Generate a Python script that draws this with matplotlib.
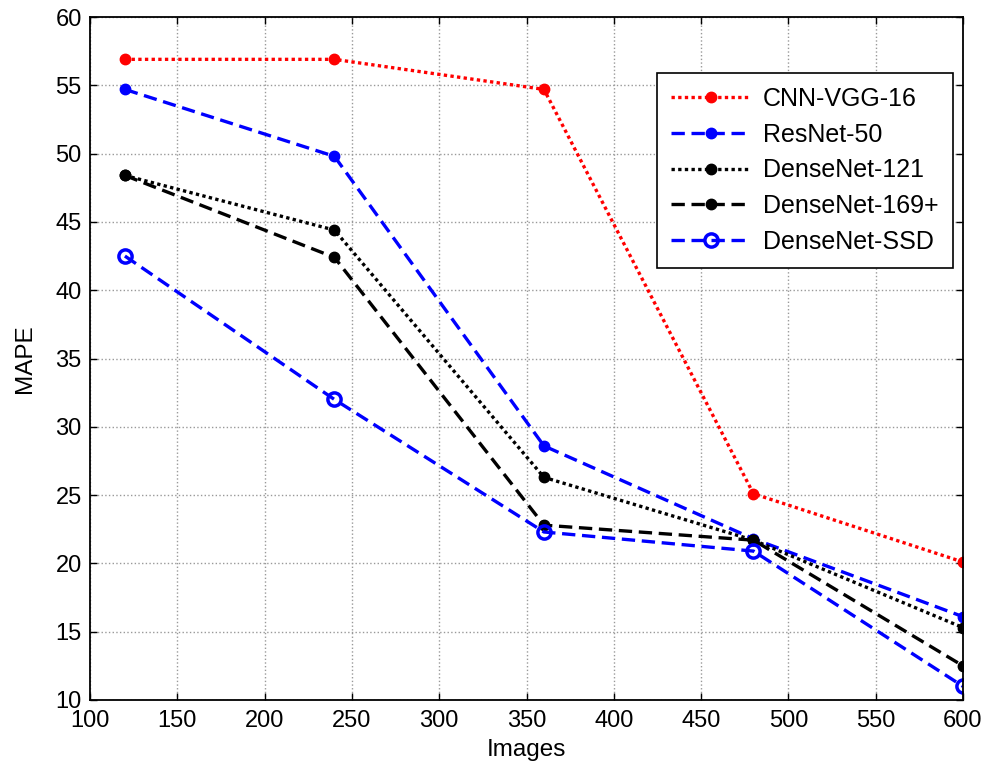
import matplotlib
matplotlib.use("Agg")
import matplotlib.pyplot as plt

plt.rcParams['font.family'] = ['Liberation Sans', 'DejaVu Sans']

images = [120, 240, 360, 480, 600]
cnn_vgg16 = [56.9, 56.9, 54.7, 25.1, 20.1]
resnet50 = [54.7, 49.8, 28.6, 21.8, 16.1]
densenet121 = [48.4, 44.4, 26.3, 21.7, 15.3]
densenet169 = [48.4, 42.4, 22.8, 21.7, 12.5]
densenet_ssd = [42.5, 32.0, 22.3, 20.9, 11.0]

xticks = [100, 150, 200, 250, 300, 350, 400, 450, 500, 550, 600]
yticks = [10, 15, 20, 25, 30, 35, 40, 45, 50, 55, 60]

fig = plt.figure(figsize=(9.84, 7.71), dpi=100)
ax = fig.add_axes([90/984, 1-700/771, (963-90)/984, (700-17)/771])

lw = 2.4
ax.plot(images, cnn_vgg16, color='red', linestyle=(0, (1, 1)), linewidth=lw,
        marker='o', markersize=7.5, label='CNN-VGG-16')
ax.plot(images, resnet50, color='blue', linestyle=(0, (4, 2)), linewidth=lw,
        marker='o', markersize=7.5, label='ResNet-50')
ax.plot(images, densenet121, color='black', linestyle=(0, (1, 1)), linewidth=lw,
        marker='o', markersize=7.5, label='DenseNet-121')
ax.plot(images, densenet169, color='black', linestyle=(0, (4, 2)), linewidth=lw,
        marker='o', markersize=7.5, label='DenseNet-169+')
ax.plot(images, densenet_ssd, color='blue', linestyle=(0, (4, 2)), linewidth=lw,
        marker='o', markersize=9.5, markerfacecolor='none', markeredgewidth=2.5,
        label='DenseNet-SSD')

ax.set_xlim(100, 600)
ax.set_ylim(10, 60)
ax.set_xticks(xticks)
ax.set_yticks(yticks)
ax.tick_params(direction='in', top=True, right=True, labelsize=17, length=5, width=1)
ax.tick_params(axis='x', pad=7)
ax.tick_params(axis='y', pad=6)
ax.grid(True, color='#999999', linestyle=':', linewidth=1)
for s in ax.spines.values():
    s.set_linewidth(1.3)
ax.set_xlabel('Images', fontsize=17.5, labelpad=5)
ax.set_ylabel('MAPE', fontsize=17.5, labelpad=14)

leg = ax.legend(loc='upper left', bbox_to_anchor=(657/984, 1-73/771),
                bbox_transform=fig.transFigure, fontsize=18, handlelength=3.2,
                handletextpad=0.5, fancybox=False, framealpha=1, edgecolor='black',
                borderpad=0.55, labelspacing=0.47, borderaxespad=0)
leg.get_frame().set_linewidth(1.2)

fig.savefig('out.png', dpi=100)
